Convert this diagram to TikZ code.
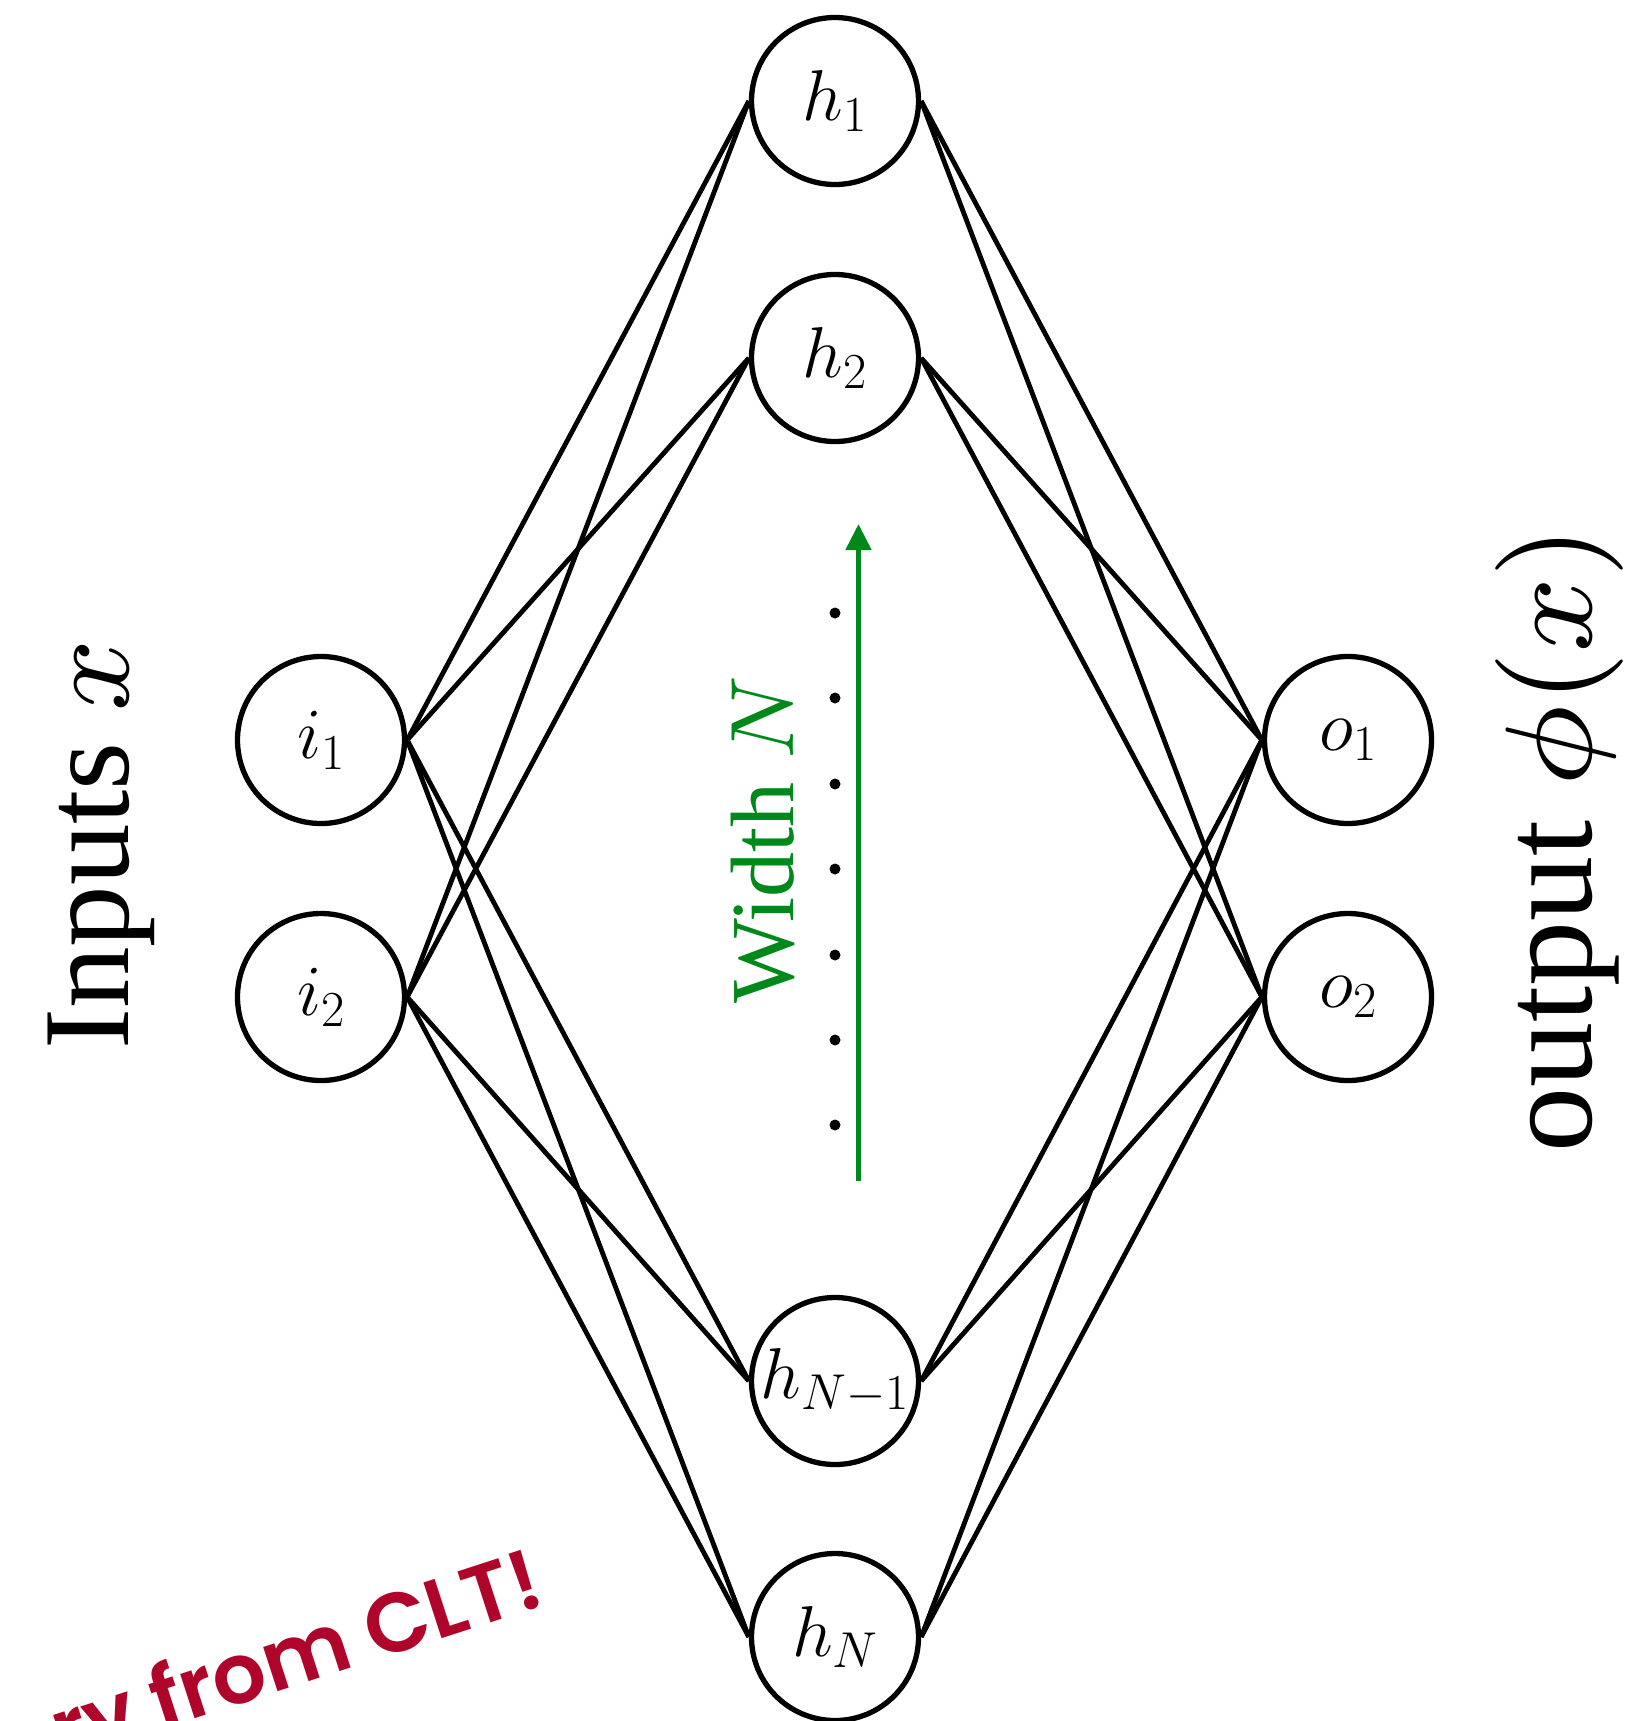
\RequirePackage{fix-cm}
\documentclass[tikz,border=0pt]{standalone}
\usepackage{graphicx}
\usepackage{fontspec}
\usetikzlibrary{arrows.meta}

\newfontfamily\labelserif{Liberation Serif}
\newfontfamily\notesans{Poppins SemiBold}

\definecolor{widthgreen}{RGB}{0,137,26}
\definecolor{notered}{RGB}{175,5,42}

% math set at a small design size and enlarged, for a heavier stroke
\newcommand\designmath[2]{\scalebox{#1}{\fontsize{9}{11}\selectfont$#2$}}
\newcommand\heavymath[2]{\scalebox{#1}{\fontsize{7}{8}\selectfont$#2$}}

\tikzset{
  unit/.style={circle, draw, line width=5.3pt, minimum size=167pt,
    inner sep=0pt, font=\fontsize{72}{86}\selectfont},
  link/.style={line width=4.8pt},
  growth/.style={widthgreen, line width=5pt,
    -{Triangle[length=26pt,width=25pt]}},
  sidelabel/.style={inner sep=0pt, font=\labelserif\fontsize{123}{140}\selectfont},
  widthlabel/.style={inner sep=0pt, text=widthgreen,
    font=\labelserif\fontsize{90}{104}\selectfont},
  note/.style={inner sep=0pt, text=notered,
    font=\notesans\fontsize{84}{96}\selectfont},
}

\begin{document}
\begin{tikzpicture}[x=1pt, y=-1pt]
  \useasboundingbox (0,0) rectangle (1639,1721);

  % input layer
  \node[unit] (i1) at (321,740) {$i_1$};
  \node[unit] (i2) at (321,997) {$i_2$};

  % hidden layer
  \node[unit] (h1) at (835,101)  {$h_1$};
  \node[unit] (h2) at (835,358)  {$h_2$};
  \node[unit] (h3) at (835,1381) {$h_{N-1}$};
  \node[unit] (h4) at (835,1637) {$h_N$};

  % output layer
  \node[unit] (o1) at (1348,740) {$o_1$};
  \node[unit] (o2) at (1348,997) {$o_2$};

  % fully connected weights
  \foreach \a in {i1,i2}
    \foreach \b in {h1,h2,h3,h4}
      \draw[link] (\a.east) -- (\b.west);
  \foreach \b in {h1,h2,h3,h4}
    \foreach \c in {o1,o2}
      \draw[link] (\b.east) -- (\c.west);

  % omitted hidden units
  \foreach \y in {613,698,784,869,955,1040,1125}
    \fill (835,\y) circle (5.5pt);

  % width arrow
  \coordinate (wbase) at (858.5,1181);
  \coordinate (wtip)  at (858.5,524);
  \draw[growth] (wbase) -- (wtip);
  \node[widthlabel, rotate=90, anchor=base west] (wlab) at (793,1004)
    {Width \designmath{10}{N}};

  % side labels
  \node[sidelabel, rotate=90, anchor=base west] (inlab) at (128,1050)
    {Inputs \designmath{13.67}{x}};
  \node[sidelabel, font=\labelserif\fontsize{130}{148}\selectfont,
        rotate=90, anchor=base west] (outlab) at (1591,1153)
    {output \heavymath{17.6}{\phi}\designmath{14.2}{(x)}};

  % remark
  \node[note, rotate=18, anchor=base east] (clt) at (548,1604) {ory from CLT!};
\end{tikzpicture}
\end{document}
